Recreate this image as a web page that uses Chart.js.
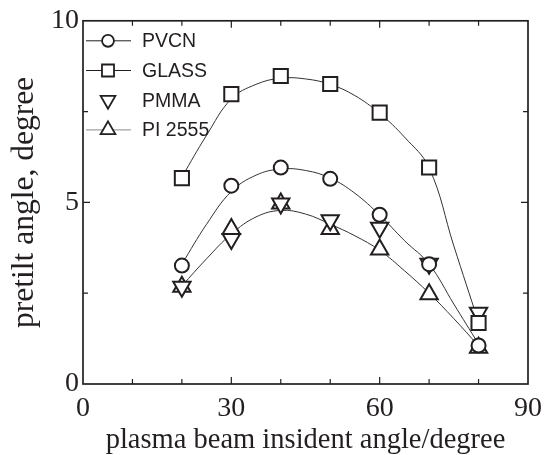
<!DOCTYPE html>
<html>
<head>
<meta charset="utf-8">
<script src="https://cdn.jsdelivr.net/npm/chart.js@4.4.1/dist/chart.umd.min.js"></script>
<style>
  html, body { margin: 0; padding: 0; background: #fff; }
  #wrap { width: 550px; height: 455px; }
</style>
</head>
<body>
<div id="wrap"><canvas id="mycanvas" width="550" height="455"></canvas></div>
<script>
// measured pretilt angles
var angles = [20, 30, 40, 50, 60, 70, 80];
var pvcn   = [3.26, 5.46, 5.96, 5.65, 4.66, 3.3, 1.06];
var glass  = [5.67, 7.98, 8.48, 8.26, 7.47, 5.96, 1.68];
var pmma   = [2.68, 3.99, 4.97, 4.51, 4.3, 3.31, 1.96];
var pi2555 = [2.68, 4.27, 4.97, 4.27, 3.7, 2.47, 1.0];

// fitted curves
var fitAngles = [20, 25, 30, 35, 40, 45, 50, 55, 60, 65, 70, 75, 80];
var glassFit  = [5.7, 6.85, 7.85, 8.25, 8.42, 8.4, 8.25, 7.94, 7.45, 6.8, 5.95, 3.8, 1.7];
var pvcnFit   = [3.3, 4.4, 5.3, 5.75, 5.92, 5.88, 5.67, 5.25, 4.65, 3.95, 3.3, 2.2, 1.1];
var piFit     = [2.7, 3.45, 4.13, 4.6, 4.78, 4.68, 4.4, 4.08, 3.68, 3.12, 2.5, 1.8, 1.05];

var xTicks = [0, 30, 60, 90];
var yTicks = [0, 5, 10];

var ink = '#231f20';

function pts(xs, ys) {
    var out = [];
    for (var i = 0; i < xs.length; i++) out.push({ x: xs[i], y: ys[i] });
    return out;
}

function markerSet(label, values, style, radius, rotation, legendLine) {
    return {
        label: label,
        data: pts(angles, values),
        showLine: false,
        pointStyle: style,
        pointRadius: radius,
        pointRotation: rotation,
        pointBorderWidth: 2,
        pointBorderColor: ink,
        pointBackgroundColor: '#fff',
        legendLine: legendLine,
        order: 1
    };
}

function curveSet(values) {
    return {
        label: '',
        data: pts(fitAngles, values),
        showLine: true,
        borderColor: '#333',
        borderWidth: 1,
        pointRadius: 0,
        tension: 0.4,
        fill: false,
        isFit: true,
        order: 2
    };
}

function drawMarker(ctx, style, x, y, r, rot) {
    ctx.beginPath();
    if (style === 'circle') {
        ctx.arc(x, y, r, 0, Math.PI * 2);
    } else if (style === 'rect') {
        var s = r * Math.SQRT1_2;
        ctx.rect(x - s, y - s, 2 * s, 2 * s);
    } else {
        var a = (rot || 0) * Math.PI / 180;
        for (var k = 0; k < 3; k++) {
            var px = x + Math.sin(a) * r, py = y - Math.cos(a) * r;
            if (k === 0) ctx.moveTo(px, py); else ctx.lineTo(px, py);
            a += Math.PI * 2 / 3;
        }
        ctx.closePath();
    }
    ctx.fillStyle = '#fff';
    ctx.fill();
    ctx.stroke();
}

var frameAndLegend = {
    id: 'frameAndLegend',
    afterDatasetsDraw: function (chart) {
        var ctx = chart.ctx, a = chart.chartArea;
        var xs = chart.scales.x, ys = chart.scales.y;
        ctx.save();
        ctx.strokeStyle = ink;
        ctx.lineWidth = 1.7;
        ctx.strokeRect(a.left, a.top, a.right - a.left, a.bottom - a.top);

        // inward ticks on all four sides
        ctx.lineWidth = 1.2;
        ctx.beginPath();
        var v, p, len;
        for (v = 10; v < 90; v += 10) {
            p = xs.getPixelForValue(v);
            len = v % 30 === 0 ? 7 : 5;
            ctx.moveTo(p, a.bottom); ctx.lineTo(p, a.bottom - len);
            ctx.moveTo(p, a.top); ctx.lineTo(p, a.top + len);
        }
        for (v = 2.5; v < 10; v += 2.5) {
            p = ys.getPixelForValue(v);
            len = v % 5 === 0 ? 7 : 5;
            ctx.moveTo(a.left, p); ctx.lineTo(a.left + len, p);
            ctx.moveTo(a.right, p); ctx.lineTo(a.right - len, p);
        }
        ctx.stroke();

        // legend
        var rowY = a.top + 20, mx = a.left + 25;
        ctx.font = '19.5px "Liberation Sans", Arial, sans-serif';
        ctx.textBaseline = 'middle';
        ctx.textAlign = 'left';
        chart.data.datasets.forEach(function (ds) {
            if (ds.isFit) return;
            if (ds.legendLine) {
                ctx.strokeStyle = ds.legendLine;
                ctx.lineWidth = 1;
                ctx.beginPath();
                ctx.moveTo(a.left + 3, rowY);
                ctx.lineTo(a.left + 48, rowY);
                ctx.stroke();
            }
            ctx.strokeStyle = ink;
            ctx.lineWidth = 1.8;
            drawMarker(ctx, ds.pointStyle, mx, rowY, ds.pointRadius * 0.85, ds.pointRotation);
            ctx.fillStyle = ink;
            ctx.fillText(ds.label, a.left + 59, rowY + 1);
            rowY += 29.7;
        });
        ctx.restore();
    }
};

var ctx = document.getElementById('mycanvas').getContext('2d');
var serif = '"Liberation Serif", "Times New Roman", serif';

var chart = new Chart(ctx, {
    type: 'scatter',
    data: {
        datasets: [
            markerSet('PVCN', pvcn, 'circle', 7, 0, ink),
            markerSet('GLASS', glass, 'rect', 10, 0, ink),
            markerSet('PMMA', pmma, 'triangle', 10, 180, null),
            markerSet('PI 2555', pi2555, 'triangle', 10, 0, '#8a8a8a'),
            curveSet(glassFit),
            curveSet(pvcnFit),
            curveSet(piFit)
        ]
    },
    options: {
        responsive: false,
        animation: false,
        devicePixelRatio: 1,
        layout: { padding: { left: 0, top: 16, right: 15, bottom: 0 } },
        plugins: {
            legend: { display: false },
            tooltip: { enabled: false }
        },
        scales: {
            x: {
                type: 'linear',
                min: 0,
                max: 90,
                afterBuildTicks: function (s) { s.ticks = xTicks.map(function (v) { return { value: v }; }); },
                afterFit: function (s) { s.height = 71; },
                grid: { display: false, drawTicks: false },
                border: { display: false },
                ticks: { color: ink, padding: 8, maxRotation: 0, font: { family: serif, size: 28 } },
                title: {
                    display: true,
                    text: 'plasma beam insident angle/degree',
                    color: ink,
                    font: { family: serif, size: 28.5, lineHeight: 1 },
                    padding: { top: 0, bottom: 0 }
                }
            },
            y: {
                type: 'linear',
                min: 0,
                max: 10,
                afterBuildTicks: function (s) { s.ticks = yTicks.map(function (v) { return { value: v }; }); },
                afterFit: function (s) { s.width = 83; },
                grid: { display: false, drawTicks: false },
                border: { display: false },
                ticks: { color: ink, padding: 4, font: { family: serif, size: 28 } },
                title: {
                    display: true,
                    text: 'pretilt angle, degree',
                    color: ink,
                    font: { family: serif, size: 31.5, lineHeight: 1 },
                    padding: { top: 9, bottom: 0 }
                }
            }
        }
    },
    plugins: [frameAndLegend]
});
</script>
</body>
</html>
